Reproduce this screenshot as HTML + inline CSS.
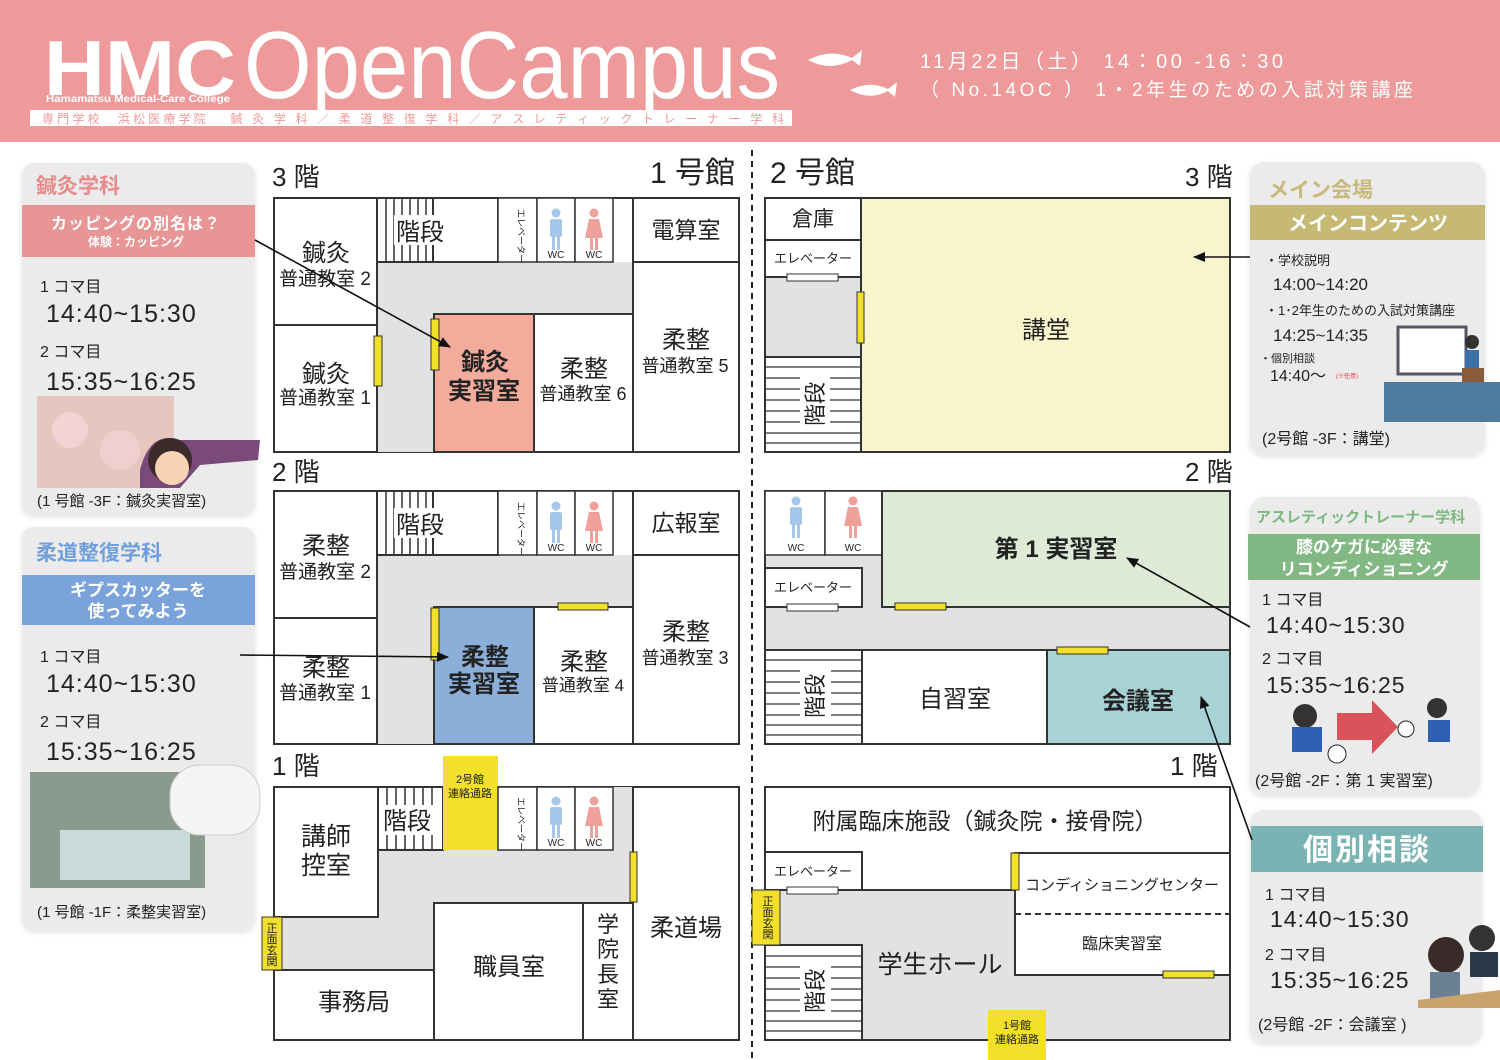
<!DOCTYPE html>
<html><head><meta charset="utf-8"><style>
html,body{margin:0;padding:0;background:#fff}
svg{display:block}
text{font-family:"Liberation Sans","Noto Sans CJK JP",sans-serif;fill:#222}
</style></head><body>
<svg width="1500" height="1060" viewBox="0 0 1500 1060" xmlns="http://www.w3.org/2000/svg">
<defs>
<g id="man"><circle cx="0" cy="-20" r="4.5" fill="#a5c8ea"/><rect x="-6" y="-14" width="12" height="18" rx="2" fill="#a5c8ea"/><rect x="-4" y="3" width="3" height="14" fill="#a5c8ea"/><rect x="1" y="3" width="3" height="14" fill="#a5c8ea"/></g>
<g id="woman"><circle cx="0" cy="-20" r="4.5" fill="#f0a09a"/><path d="M-5,-14 L5,-14 L9,5 L-9,5Z" fill="#f0a09a"/><rect x="-4" y="4" width="3" height="13" fill="#f0a09a"/><rect x="1" y="4" width="3" height="13" fill="#f0a09a"/></g>
<marker id="ah" markerWidth="12" markerHeight="10" refX="11" refY="5" orient="auto" markerUnits="userSpaceOnUse"><path d="M0,0 L12,5 L0,10Z" fill="#111"/></marker>
<filter id="sh" x="-10%" y="-10%" width="120%" height="120%"><feDropShadow dx="0" dy="2" stdDeviation="3" flood-color="#000" flood-opacity="0.12"/></filter>
</defs>

<!-- header -->
<rect x="0" y="0" width="1500" height="142" fill="#ee9a9a"/>
<text x="44" y="95" font-size="78" font-weight="bold" style="fill:#fff" textLength="192" lengthAdjust="spacingAndGlyphs">HMC</text>
<text x="46" y="102" font-size="10" font-weight="bold" style="fill:#fff" textLength="184" lengthAdjust="spacingAndGlyphs">Hamamatsu Medical-Care College</text>
<text x="244" y="98" font-size="96" style="fill:#fff" textLength="536" lengthAdjust="spacingAndGlyphs">OpenCampus</text>
<rect x="30" y="110" width="762" height="16" fill="#fff"/>
<text x="42" y="123" font-size="12" style="fill:#ee9a9a" textLength="742" lengthAdjust="spacing">専門学校　浜松医療学院　 鍼 灸 学 科 ／ 柔 道 整 復 学 科 ／ ア ス レ テ ィ ッ ク ト レ ー ナ ー 学 科</text>
<path d="M808,60 Q830,48 852,58 L862,50 L860,66 L852,60 Q830,72 808,60Z" fill="#fff"/>
<path d="M850,90 Q870,80 888,89 L897,82 L895,97 L888,91 Q870,101 850,90Z" fill="#fff"/>
<text x="920" y="68" font-size="20" style="fill:#fff" textLength="363" lengthAdjust="spacing">11月22日（土） 14：00 -16：30</text>
<text x="920" y="96" font-size="19" style="fill:#fff" textLength="493" lengthAdjust="spacing">（ No.14OC ） 1・2年生のための入試対策講座</text>

<line x1="752" y1="150" x2="752" y2="1060" stroke="#222" stroke-width="2" stroke-dasharray="6,5"/>

<!-- ===== Building 1 3F ===== -->
<text x="272" y="186" font-size="26">3 階</text>
<text x="650" y="183" font-size="30">1 号館</text>
<rect x="274" y="198" width="465" height="254" fill="#fff" stroke="#333" stroke-width="2"/>
<rect x="377" y="262" width="256" height="52" fill="#e2e2e2"/>
<rect x="377" y="262" width="57" height="190" fill="#e2e2e2"/>
<rect x="274" y="198" width="103" height="127" fill="#fff" stroke="#333" stroke-width="2"/>
<rect x="274" y="325" width="103" height="127" fill="#fff" stroke="#333" stroke-width="2"/>
<g stroke="#333" stroke-width="1.5"><line x1="386" y1="198" x2="386" y2="262"/><line x1="394" y1="198" x2="394" y2="262"/><line x1="402" y1="198" x2="402" y2="262"/><line x1="410" y1="198" x2="410" y2="262"/><line x1="418" y1="198" x2="418" y2="262"/><line x1="426" y1="198" x2="426" y2="262"/></g>
<rect x="377" y="198" width="121" height="64" fill="none" stroke="#333" stroke-width="2"/>
<line x1="433" y1="198" x2="433" y2="262" stroke="#333" stroke-width="2"/>
<rect x="394" y="215" width="52" height="30" fill="#fff"/>
<text x="396" y="240" font-size="24">階段</text>
<rect x="498" y="198" width="39" height="64" fill="#fff" stroke="#333" stroke-width="1.5"/>
<rect x="537" y="198" width="38" height="64" fill="#fff" stroke="#333" stroke-width="1.5"/>
<rect x="575" y="198" width="38" height="64" fill="#fff" stroke="#333" stroke-width="1.5"/>
<text x="522" y="232" font-size="9" transform="rotate(90 518 232)" text-anchor="middle">エレベーター</text>
<use href="#man" x="556" y="233"/><use href="#woman" x="594" y="233"/>
<text x="556" y="258" font-size="10" text-anchor="middle">WC</text><text x="594" y="258" font-size="10" text-anchor="middle">WC</text>
<rect x="633" y="198" width="106" height="64" fill="#fff" stroke="#333" stroke-width="2"/>
<rect x="633" y="262" width="106" height="190" fill="#fff" stroke="#333" stroke-width="2"/>
<rect x="434" y="314" width="100" height="138" fill="#f3ab9b" stroke="#333" stroke-width="2"/>
<rect x="534" y="314" width="99" height="138" fill="#fff" stroke="#333" stroke-width="2"/>
<rect x="374" y="336" width="8" height="50" fill="#f2e02a" stroke="#333"/>
<rect x="431" y="319" width="8" height="51" fill="#f2e02a" stroke="#333"/>
<text x="326" y="261" font-size="24" text-anchor="middle">鍼灸</text><text x="325" y="285" font-size="19" text-anchor="middle">普通教室 2</text>
<text x="326" y="382" font-size="24" text-anchor="middle">鍼灸</text><text x="325" y="404" font-size="19" text-anchor="middle">普通教室 1</text>
<text x="485" y="370" font-size="24" font-weight="bold" text-anchor="middle">鍼灸</text><text x="484" y="399" font-size="24" font-weight="bold" text-anchor="middle">実習室</text>
<text x="584" y="377" font-size="24" text-anchor="middle">柔整</text><text x="583" y="400" font-size="18" text-anchor="middle">普通教室 6</text>
<text x="686" y="348" font-size="24" text-anchor="middle">柔整</text><text x="685" y="372" font-size="18" text-anchor="middle">普通教室 5</text>
<text x="686" y="238" font-size="23" text-anchor="middle">電算室</text>

<!-- ===== Building 1 2F ===== -->
<text x="272" y="481" font-size="26">2 階</text>
<rect x="274" y="491" width="465" height="253" fill="#fff" stroke="#333" stroke-width="2"/>
<rect x="377" y="555" width="256" height="52" fill="#e2e2e2"/>
<rect x="377" y="555" width="57" height="189" fill="#e2e2e2"/>
<rect x="274" y="491" width="103" height="127" fill="#fff" stroke="#333" stroke-width="2"/>
<rect x="274" y="618" width="103" height="126" fill="#fff" stroke="#333" stroke-width="2"/>
<g stroke="#333" stroke-width="1.5"><line x1="386" y1="491" x2="386" y2="555"/><line x1="394" y1="491" x2="394" y2="555"/><line x1="402" y1="491" x2="402" y2="555"/><line x1="410" y1="491" x2="410" y2="555"/><line x1="418" y1="491" x2="418" y2="555"/><line x1="426" y1="491" x2="426" y2="555"/></g>
<rect x="377" y="491" width="121" height="64" fill="none" stroke="#333" stroke-width="2"/>
<line x1="433" y1="491" x2="433" y2="555" stroke="#333" stroke-width="2"/>
<rect x="394" y="508" width="52" height="30" fill="#fff"/>
<text x="396" y="533" font-size="24">階段</text>
<rect x="498" y="491" width="39" height="64" fill="#fff" stroke="#333" stroke-width="1.5"/>
<rect x="537" y="491" width="38" height="64" fill="#fff" stroke="#333" stroke-width="1.5"/>
<rect x="575" y="491" width="38" height="64" fill="#fff" stroke="#333" stroke-width="1.5"/>
<text x="522" y="525" font-size="9" transform="rotate(90 518 525)" text-anchor="middle">エレベーター</text>
<use href="#man" x="556" y="526"/><use href="#woman" x="594" y="526"/>
<text x="556" y="551" font-size="10" text-anchor="middle">WC</text><text x="594" y="551" font-size="10" text-anchor="middle">WC</text>
<rect x="633" y="491" width="106" height="64" fill="#fff" stroke="#333" stroke-width="2"/>
<rect x="633" y="555" width="106" height="189" fill="#fff" stroke="#333" stroke-width="2"/>
<rect x="434" y="607" width="100" height="137" fill="#8bafd9" stroke="#333" stroke-width="2"/>
<rect x="534" y="607" width="99" height="137" fill="#fff" stroke="#333" stroke-width="2"/>
<rect x="558" y="603" width="50" height="7" fill="#f2e02a" stroke="#333"/>
<rect x="431" y="608" width="8" height="52" fill="#f2e02a" stroke="#333"/>
<text x="326" y="554" font-size="24" text-anchor="middle">柔整</text><text x="325" y="578" font-size="19" text-anchor="middle">普通教室 2</text>
<text x="326" y="676" font-size="24" text-anchor="middle">柔整</text><text x="325" y="699" font-size="19" text-anchor="middle">普通教室 1</text>
<text x="485" y="665" font-size="24" font-weight="bold" text-anchor="middle">柔整</text><text x="484" y="692" font-size="24" font-weight="bold" text-anchor="middle">実習室</text>
<text x="584" y="670" font-size="24" text-anchor="middle">柔整</text><text x="583" y="691" font-size="17" text-anchor="middle">普通教室 4</text>
<text x="686" y="640" font-size="24" text-anchor="middle">柔整</text><text x="685" y="664" font-size="18" text-anchor="middle">普通教室 3</text>
<text x="686" y="531" font-size="23" text-anchor="middle">広報室</text>

<!-- ===== Building 1 1F ===== -->
<text x="272" y="775" font-size="26">1 階</text>
<rect x="274" y="787" width="465" height="253" fill="#fff" stroke="#333" stroke-width="2"/>
<rect x="378" y="850" width="255" height="53" fill="#e2e2e2"/>
<rect x="613" y="787" width="20" height="63" fill="#e2e2e2"/>
<rect x="274" y="903" width="160" height="67" fill="#e2e2e2"/>
<rect x="378" y="850" width="56" height="120" fill="#e2e2e2"/>
<rect x="274" y="787" width="104" height="130" fill="#fff" stroke="#333" stroke-width="2"/>
<g stroke="#333" stroke-width="1.5"><line x1="387" y1="787" x2="387" y2="850"/><line x1="396" y1="787" x2="396" y2="850"/><line x1="405" y1="787" x2="405" y2="850"/><line x1="414" y1="787" x2="414" y2="850"/><line x1="423" y1="787" x2="423" y2="850"/><line x1="432" y1="787" x2="432" y2="850"/></g>
<rect x="378" y="787" width="65" height="63" fill="none" stroke="#333" stroke-width="2"/>
<rect x="382" y="805" width="52" height="30" fill="#fff"/>
<text x="383" y="829" font-size="24">階段</text>
<rect x="443" y="756" width="55" height="94" fill="#f2e02a"/>
<text x="470" y="783" font-size="11" text-anchor="middle">2号館</text><text x="470" y="797" font-size="11" text-anchor="middle">連絡通路</text>
<rect x="498" y="787" width="39" height="63" fill="#fff" stroke="#333" stroke-width="1.5"/>
<rect x="537" y="787" width="38" height="63" fill="#fff" stroke="#333" stroke-width="1.5"/>
<rect x="575" y="787" width="38" height="63" fill="#fff" stroke="#333" stroke-width="1.5"/>
<text x="522" y="820" font-size="9" transform="rotate(90 518 820)" text-anchor="middle">エレベーター</text>
<use href="#man" x="556" y="821"/><use href="#woman" x="594" y="821"/>
<text x="556" y="846" font-size="10" text-anchor="middle">WC</text><text x="594" y="846" font-size="10" text-anchor="middle">WC</text>
<rect x="633" y="787" width="106" height="253" fill="#fff" stroke="#333" stroke-width="2"/>
<rect x="274" y="970" width="160" height="70" fill="#fff" stroke="#333" stroke-width="2"/>
<rect x="434" y="903" width="149" height="137" fill="#fff" stroke="#333" stroke-width="2"/>
<rect x="583" y="903" width="50" height="137" fill="#fff" stroke="#333" stroke-width="2"/>
<rect x="630" y="852" width="7" height="50" fill="#f2e02a" stroke="#333"/>
<rect x="262" y="917" width="20" height="53" fill="#f2e02a" stroke="#333"/>
<g font-size="11"><text x="272" y="932" text-anchor="middle">正</text><text x="272" y="943" text-anchor="middle">面</text><text x="272" y="954" text-anchor="middle">玄</text><text x="272" y="965" text-anchor="middle">関</text></g>
<text x="326" y="845" font-size="25" text-anchor="middle">講師</text><text x="326" y="874" font-size="25" text-anchor="middle">控室</text>
<text x="354" y="1010" font-size="24" text-anchor="middle">事務局</text>
<text x="509" y="975" font-size="24" text-anchor="middle">職員室</text>
<g font-size="22" text-anchor="middle"><text x="608" y="932">学</text><text x="608" y="957">院</text><text x="608" y="982">長</text><text x="608" y="1007">室</text></g>
<text x="686" y="936" font-size="24" text-anchor="middle">柔道場</text>

<!-- ===== Building 2 3F ===== -->
<text x="770" y="183" font-size="30">2 号館</text>
<text x="1185" y="186" font-size="26">3 階</text>
<rect x="765" y="198" width="465" height="254" fill="#f8f5cc" stroke="#333" stroke-width="2"/>
<rect x="765" y="198" width="96" height="254" fill="#fff" stroke="#333" stroke-width="2"/>
<rect x="765" y="277" width="96" height="80" fill="#e2e2e2"/>
<line x1="765" y1="240" x2="861" y2="240" stroke="#333" stroke-width="2"/>
<line x1="765" y1="277" x2="861" y2="277" stroke="#333" stroke-width="2"/>
<line x1="765" y1="357" x2="861" y2="357" stroke="#333" stroke-width="2"/>
<rect x="765" y="198" width="96" height="254" fill="none" stroke="#333" stroke-width="2"/>
<g stroke="#333" stroke-width="1.3"><line x1="765" y1="367" x2="861" y2="367"/><line x1="765" y1="378" x2="800" y2="378"/><line x1="830" y1="378" x2="861" y2="378"/><line x1="765" y1="389" x2="800" y2="389"/><line x1="830" y1="389" x2="861" y2="389"/><line x1="765" y1="400" x2="800" y2="400"/><line x1="830" y1="400" x2="861" y2="400"/><line x1="765" y1="411" x2="800" y2="411"/><line x1="830" y1="411" x2="861" y2="411"/><line x1="765" y1="422" x2="800" y2="422"/><line x1="830" y1="422" x2="861" y2="422"/><line x1="765" y1="433" x2="861" y2="433"/><line x1="765" y1="443" x2="861" y2="443"/></g>
<text x="815" y="412" font-size="22" text-anchor="middle" transform="rotate(-90 815 404)">階段</text>
<text x="813" y="226" font-size="21" text-anchor="middle">倉庫</text>
<text x="813" y="263" font-size="13" text-anchor="middle">エレベーター</text>
<rect x="787" y="274" width="51" height="7" fill="#fff" stroke="#333"/>
<rect x="857" y="292" width="7" height="51" fill="#f2e02a" stroke="#333"/>
<text x="1046" y="338" font-size="24" text-anchor="middle">講堂</text>

<!-- ===== Building 2 2F ===== -->
<text x="1185" y="481" font-size="26">2 階</text>
<rect x="765" y="491" width="465" height="253" fill="#e2e2e2" stroke="#333" stroke-width="2"/>
<rect x="765" y="491" width="60" height="64" fill="#fff" stroke="#333" stroke-width="1.5"/>
<rect x="825" y="491" width="57" height="64" fill="#fff" stroke="#333" stroke-width="1.5"/>
<use href="#man" x="796" y="521"/><use href="#woman" x="853" y="521"/>
<text x="796" y="551" font-size="10" text-anchor="middle">WC</text><text x="853" y="551" font-size="10" text-anchor="middle">WC</text>
<rect x="882" y="491" width="348" height="116" fill="#dfead6" stroke="#333" stroke-width="2"/>
<rect x="765" y="568" width="97" height="39" fill="#fff" stroke="#333" stroke-width="2"/>
<text x="813" y="592" font-size="13" text-anchor="middle">エレベーター</text>
<rect x="787" y="604" width="51" height="7" fill="#fff" stroke="#333"/>
<rect x="895" y="603" width="51" height="7" fill="#f2e02a" stroke="#333"/>
<rect x="765" y="650" width="97" height="94" fill="#fff" stroke="#333" stroke-width="2"/>
<g stroke="#333" stroke-width="1.3"><line x1="765" y1="660" x2="862" y2="660"/><line x1="765" y1="671" x2="800" y2="671"/><line x1="831" y1="671" x2="862" y2="671"/><line x1="765" y1="682" x2="800" y2="682"/><line x1="831" y1="682" x2="862" y2="682"/><line x1="765" y1="693" x2="800" y2="693"/><line x1="831" y1="693" x2="862" y2="693"/><line x1="765" y1="704" x2="800" y2="704"/><line x1="831" y1="704" x2="862" y2="704"/><line x1="765" y1="715" x2="800" y2="715"/><line x1="831" y1="715" x2="862" y2="715"/><line x1="765" y1="725" x2="862" y2="725"/><line x1="765" y1="735" x2="862" y2="735"/></g>
<text x="815" y="704" font-size="22" text-anchor="middle" transform="rotate(-90 815 696)">階段</text>
<rect x="862" y="650" width="185" height="94" fill="#fff" stroke="#333" stroke-width="2"/>
<rect x="1047" y="650" width="183" height="94" fill="#a8d3d6" stroke="#333" stroke-width="2"/>
<rect x="1057" y="647" width="51" height="7" fill="#f2e02a" stroke="#333"/>
<text x="1056" y="557" font-size="24" font-weight="bold" text-anchor="middle">第 1 実習室</text>
<text x="955" y="707" font-size="24" text-anchor="middle">自習室</text>
<text x="1138" y="709" font-size="24" font-weight="bold" text-anchor="middle">会議室</text>

<!-- ===== Building 2 1F ===== -->
<text x="1170" y="775" font-size="26">1 階</text>
<rect x="765" y="787" width="465" height="253" fill="#e2e2e2" stroke="#333" stroke-width="2"/>
<rect x="765" y="787" width="465" height="103" fill="#fff"/>
<rect x="765" y="787" width="465" height="253" fill="none" stroke="#333" stroke-width="2"/>
<line x1="862" y1="890" x2="1015" y2="890" stroke="#333" stroke-width="2"/>
<rect x="765" y="852" width="97" height="38" fill="#fff" stroke="#333" stroke-width="2"/>
<text x="813" y="876" font-size="13" text-anchor="middle">エレベーター</text>
<rect x="787" y="887" width="51" height="7" fill="#fff" stroke="#333"/>
<rect x="1015" y="853" width="215" height="122" fill="#fff" stroke="#333" stroke-width="2"/>
<line x1="1015" y1="914" x2="1230" y2="914" stroke="#333" stroke-width="2" stroke-dasharray="6,4"/>
<rect x="1011" y="853" width="8" height="37" fill="#f2e02a" stroke="#333"/>
<rect x="1163" y="971" width="51" height="7" fill="#f2e02a" stroke="#333"/>
<rect x="765" y="945" width="97" height="95" fill="#fff" stroke="#333" stroke-width="2"/>
<g stroke="#333" stroke-width="1.3"><line x1="765" y1="956" x2="862" y2="956"/><line x1="765" y1="967" x2="800" y2="967"/><line x1="831" y1="967" x2="862" y2="967"/><line x1="765" y1="978" x2="800" y2="978"/><line x1="831" y1="978" x2="862" y2="978"/><line x1="765" y1="989" x2="800" y2="989"/><line x1="831" y1="989" x2="862" y2="989"/><line x1="765" y1="1000" x2="800" y2="1000"/><line x1="831" y1="1000" x2="862" y2="1000"/><line x1="765" y1="1011" x2="800" y2="1011"/><line x1="831" y1="1011" x2="862" y2="1011"/><line x1="765" y1="1021" x2="862" y2="1021"/><line x1="765" y1="1031" x2="862" y2="1031"/></g>
<text x="815" y="999" font-size="22" text-anchor="middle" transform="rotate(-90 815 991)">階段</text>
<rect x="752" y="890" width="28" height="55" fill="#f2e02a" stroke="#333"/>
<g font-size="11"><text x="768" y="905" text-anchor="middle">正</text><text x="768" y="916" text-anchor="middle">面</text><text x="768" y="927" text-anchor="middle">玄</text><text x="768" y="938" text-anchor="middle">関</text></g>
<rect x="988" y="1010" width="58" height="50" fill="#f2e02a"/>
<text x="1017" y="1029" font-size="11" text-anchor="middle">1号館</text><text x="1017" y="1043" font-size="11" text-anchor="middle">連絡通路</text>
<text x="985" y="829" font-size="23" text-anchor="middle">附属臨床施設（鍼灸院・接骨院）</text>
<text x="1122" y="890" font-size="15" text-anchor="middle">コンディショニングセンター</text>
<text x="1122" y="949" font-size="16" text-anchor="middle">臨床実習室</text>
<text x="940" y="973" font-size="25" text-anchor="middle">学生ホール</text>

<!-- ===== Left panels ===== -->
<rect x="22" y="163" width="233" height="352" rx="12" fill="#ebebeb" filter="url(#sh)"/>
<text x="36" y="193" font-size="21" font-weight="bold" style="fill:#e88a8a">鍼灸学科</text>
<rect x="22" y="205" width="233" height="52" fill="#e89595"/>
<text x="136" y="229" font-size="16" font-weight="bold" text-anchor="middle" style="fill:#fff;letter-spacing:1px">カッピングの別名は？</text>
<text x="136" y="246" font-size="12" font-weight="bold" text-anchor="middle" style="fill:#fff">体験：カッピング</text>
<text x="40" y="292" font-size="16">1 コマ目</text>
<text x="46" y="322" font-size="25" style="letter-spacing:1px">14:40~15:30</text>
<text x="40" y="357" font-size="16">2 コマ目</text>
<text x="46" y="390" font-size="25" style="letter-spacing:1px">15:35~16:25</text>
<rect x="37" y="396" width="137" height="92" fill="#e7c6bf"/>
<circle cx="70" cy="430" r="18" fill="#f1d3d3"/><circle cx="120" cy="450" r="20" fill="#f0cfcf"/>
<path d="M140,470 Q150,430 180,440 L260,440 L258,460 L200,465 L180,488 L140,488Z" fill="#7a4a7a"/>
<circle cx="170" cy="460" r="22" fill="#3b2b2b"/><circle cx="172" cy="468" r="17" fill="#f6d4b4"/>
<text x="37" y="506" font-size="15">(1 号館 -3F：鍼灸実習室)</text>

<rect x="22" y="527" width="233" height="403" rx="12" fill="#ebebeb" filter="url(#sh)"/>
<text x="36" y="560" font-size="21" font-weight="bold" style="fill:#6f9fdd">柔道整復学科</text>
<rect x="22" y="575" width="233" height="50" fill="#7aa2db"/>
<text x="138" y="596" font-size="17" font-weight="bold" text-anchor="middle" style="fill:#fff">ギプスカッターを</text>
<text x="138" y="617" font-size="17" font-weight="bold" text-anchor="middle" style="fill:#fff">使ってみよう</text>
<text x="40" y="662" font-size="16">1 コマ目</text>
<text x="46" y="692" font-size="25" style="letter-spacing:1px">14:40~15:30</text>
<text x="40" y="727" font-size="16">2 コマ目</text>
<text x="46" y="760" font-size="25" style="letter-spacing:1px">15:35~16:25</text>
<rect x="30" y="772" width="175" height="116" fill="#8a9a8e"/>
<rect x="60" y="830" width="130" height="50" fill="#c9dcd9"/>
<rect x="170" y="765" width="90" height="70" rx="30" fill="#f4f4f4" stroke="#ccc"/>
<text x="37" y="917" font-size="15">(1 号館 -1F：柔整実習室)</text>

<!-- ===== Right panels ===== -->
<rect x="1250" y="162" width="235" height="293" rx="14" fill="#ebebeb" filter="url(#sh)"/>
<text x="1268" y="197" font-size="21" font-weight="bold" style="fill:#c8b87a">メイン会場</text>
<rect x="1250" y="205" width="235" height="35" fill="#c5b973"/>
<text x="1368" y="230" font-size="20" font-weight="bold" text-anchor="middle" style="fill:#fff">メインコンテンツ</text>
<text x="1265" y="265" font-size="13">・学校説明</text>
<text x="1273" y="290" font-size="17">14:00~14:20</text>
<text x="1265" y="315" font-size="13">・1･2年生のための入試対策講座</text>
<text x="1273" y="341" font-size="17">14:25~14:35</text>
<text x="1260" y="362" font-size="11">・個別相談</text>
<text x="1270" y="381" font-size="16">14:40～</text>
<text x="1336" y="378" font-size="6" style="fill:#e33">(※任意)</text>
<rect x="1398" y="327" width="68" height="47" fill="#fff" stroke="#556" stroke-width="3"/>
<rect x="1462" y="368" width="22" height="20" fill="#8a5a3a"/>
<circle cx="1472" cy="342" r="7" fill="#333"/><rect x="1465" y="350" width="14" height="18" fill="#3c6ea8"/>
<rect x="1384" y="382" width="116" height="40" fill="#4d7a9e"/>
<text x="1262" y="444" font-size="16">(2号館 -3F：講堂)</text>

<rect x="1250" y="497" width="230" height="298" rx="14" fill="#ebebeb" filter="url(#sh)"/>
<text x="1256" y="522" font-size="15" font-weight="bold" style="fill:#7db87f">アスレティックトレーナー学科</text>
<rect x="1248" y="534" width="232" height="46" fill="#82b883"/>
<text x="1364" y="553" font-size="17" font-weight="bold" text-anchor="middle" style="fill:#fff">膝のケガに必要な</text>
<text x="1364" y="575" font-size="17" font-weight="bold" text-anchor="middle" style="fill:#fff">リコンディショニング</text>
<text x="1262" y="605" font-size="16">1 コマ目</text>
<text x="1266" y="633" font-size="23" style="letter-spacing:1px">14:40~15:30</text>
<text x="1262" y="664" font-size="16">2 コマ目</text>
<text x="1266" y="693" font-size="23" style="letter-spacing:1px">15:35~16:25</text>
<path d="M1337,713 L1372,713 L1372,700 L1398,727 L1372,754 L1372,740 L1337,740Z" fill="#d9545a"/>
<circle cx="1305" cy="716" r="12" fill="#333"/><rect x="1292" y="727" width="30" height="25" fill="#2f5fb0"/>
<circle cx="1337" cy="754" r="9" fill="#fff" stroke="#222"/>
<circle cx="1437" cy="708" r="10" fill="#333"/><rect x="1428" y="720" width="22" height="22" fill="#2f5fb0"/>
<circle cx="1406" cy="729" r="8" fill="#fff" stroke="#222"/>
<text x="1255" y="786" font-size="16">(2号館 -2F：第 1 実習室)</text>

<rect x="1250" y="810" width="232" height="233" rx="14" fill="#ebebeb" filter="url(#sh)"/>
<rect x="1251" y="826" width="232" height="46" fill="#79b3b3"/>
<text x="1367" y="860" font-size="30" font-weight="bold" text-anchor="middle" style="fill:#fff;letter-spacing:2px">個別相談</text>
<text x="1265" y="900" font-size="16">1 コマ目</text>
<text x="1270" y="927" font-size="23" style="letter-spacing:1px">14:40~15:30</text>
<text x="1265" y="960" font-size="16">2 コマ目</text>
<text x="1270" y="988" font-size="23" style="letter-spacing:1px">15:35~16:25</text>
<circle cx="1446" cy="955" r="18" fill="#3a2a2a"/><rect x="1430" y="972" width="30" height="35" fill="#6b7f95"/>
<circle cx="1482" cy="938" r="13" fill="#333"/><rect x="1470" y="952" width="28" height="25" fill="#2a3a4a"/>
<path d="M1418,1000 L1500,990 L1500,1008 L1418,1008Z" fill="#c9a46a"/>
<text x="1258" y="1030" font-size="16">(2号館 -2F：会議室 )</text>

<!-- arrows -->
<line x1="255" y1="240" x2="450" y2="347" stroke="#111" stroke-width="1.6" marker-end="url(#ah)"/>
<line x1="240" y1="655" x2="448" y2="657" stroke="#111" stroke-width="1.6" marker-end="url(#ah)"/>
<line x1="1250" y1="257" x2="1194" y2="257" stroke="#111" stroke-width="1.6" marker-end="url(#ah)"/>
<line x1="1250" y1="627" x2="1127" y2="558" stroke="#111" stroke-width="1.6" marker-end="url(#ah)"/>
<line x1="1252" y1="840" x2="1201" y2="697" stroke="#111" stroke-width="1.6" marker-end="url(#ah)"/>
</svg>
</body></html>
